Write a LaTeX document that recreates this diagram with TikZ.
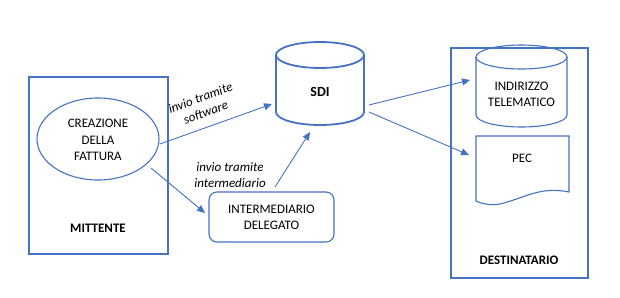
\documentclass[tikz,border=0pt]{standalone}
\usepackage{fontspec}
\setmainfont{Carlito}
\usetikzlibrary{arrows.meta,shapes.geometric}
\definecolor{bl}{HTML}{4472C4}
\begin{document}
\begin{tikzpicture}[x=1pt,y=-1pt,
  every node/.style={font=\fontsize{13}{16.3}\selectfont, text=black, align=center, inner sep=0pt},
  frame/.style={draw=bl, line width=1.2pt},
  conn/.style={draw=bl, line width=0.9pt, -{Triangle[length=8pt,width=7pt]}},
  lbl/.style={font=\itshape\fontsize{13}{15.5}\selectfont}]
\useasboundingbox (0,0) rectangle (620,297);
% MITTENTE
\draw[frame] (29,77) rectangle (168,254);
\node[draw=bl, line width=1.1pt, ellipse, minimum width=122pt, minimum height=82pt] (crea) at (98,139) {};
\node at (98,140) {CREAZIONE\\DELLA\\FATTURA};
\node[font=\bfseries\fontsize{13}{16.3}\selectfont] (mitt) at (98,228) {MITTENTE};
% Intermediario
\node[draw=bl, line width=1.1pt, rounded corners=8pt, minimum width=125pt, minimum height=50pt] (inter) at (271.5,217) {INTERMEDIARIO\\DELEGATO};
% SDI cylinder
\draw[bl, line width=1.8pt] (276,55) -- (276,112) arc[start angle=180,end angle=0,x radius=44,y radius=13] -- (364,55);
\draw[bl, line width=1.8pt] (320,55) ellipse[x radius=44,y radius=13];
\node[font=\bfseries\fontsize{14}{17}\selectfont] (sdi) at (320,92) {SDI};
% DESTINATARIO
\draw[frame] (451,48) rectangle (588,278);
\draw[bl, line width=1.1pt] (476,57) -- (476,115) arc[start angle=180,end angle=0,x radius=45.5,y radius=12] -- (567,57);
\draw[bl, line width=1.1pt] (521.5,57) ellipse[x radius=45.5,y radius=12];
\node (ind) at (521.5,94) {INDIRIZZO\\TELEMATICO};
\draw[bl, line width=1.1pt] (476,201) -- (476,136) -- (569,136) -- (569,192)
  .. controls (540,186) and (525,198) .. (500,204) .. controls (490,206) and (480,203) .. (476,201);
\node (pec) at (522,158) {PEC};
\node[font=\bfseries\fontsize{13}{16.3}\selectfont] (dest) at (519,260) {DESTINATARIO};
% connectors
\coordinate (a1) at (160,144); \coordinate (b1) at (272,104);
\coordinate (a2) at (151,168); \coordinate (b2) at (205,213);
\coordinate (a3) at (275,187); \coordinate (b3) at (310,132);
\coordinate (a4) at (369,105); \coordinate (b4) at (470,80);
\coordinate (a5) at (369,112); \coordinate (b5) at (469,155);
\draw[conn] (a1) -- (b1);
\draw[conn] (a2) -- (b2);
\draw[conn] (a3) -- (b3);
\draw[conn] (a4) -- (b4);
\draw[conn] (a5) -- (b5);
\node[lbl, rotate=20] (l1) at (203,105) {invio tramite\\software};
\node[lbl] (l2) at (230,175) {invio tramite\\intermediario};
\end{tikzpicture}
\end{document}
